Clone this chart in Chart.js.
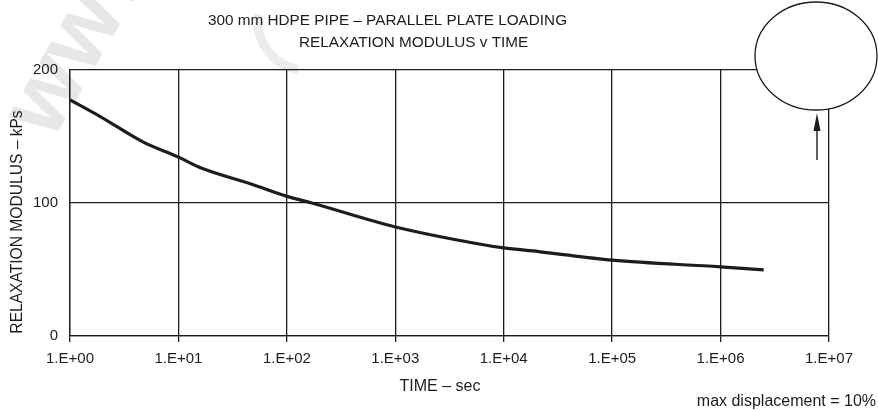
<!DOCTYPE html>
<html>
<head>
<meta charset="utf-8">
<script src="https://cdn.jsdelivr.net/npm/chart.js@4"></script>
<style>
  html, body { margin: 0; padding: 0; background: #fff; }
  #wrap { width: 878px; height: 411px; position: relative; }
</style>
</head>
<body>
<div id="wrap"><canvas id="relaxChart" width="878" height="411"></canvas></div>
<script>
// time in seconds (log axis) and relaxation modulus in kPs
const times = [1, 1.9, 4.7, 10, 16, 46, 100, 170, 1000, 6300, 10000, 21000, 100000, 1000000, 2500000];
const modulus = [177.5, 165, 146, 134.5, 126.5, 114.5, 105, 100, 82, 68.8, 66.2, 63.5, 57, 52, 49.7];
const xTicks = [1, 10, 100, 1000, 10000, 100000, 1000000, 10000000];
const xTickLabels = ['1.E+00', '1.E+01', '1.E+02', '1.E+03', '1.E+04', '1.E+05', '1.E+06', '1.E+07'];
const yTicks = [0, 100, 200];

const titleLines = ['300 mm HDPE PIPE \u2013 PARALLEL PLATE LOADING', 'RELAXATION MODULUS v TIME'];
const xTitle = 'TIME \u2013 sec';
const yTitle = 'RELAXATION MODULUS \u2013 kPs';
const note = 'max displacement = 10%';

const FONT = '"Liberation Sans", Arial, Helvetica, sans-serif';
const INK = '#1c1c1c';

// faint watermark behind everything
const watermark = {
    id: 'watermark',
    beforeDraw(chart) {
        const ctx = chart.ctx;
        ctx.save();
        ctx.fillStyle = '#e7e7e7';
        ctx.font = 'bold 96px ' + FONT;
        ctx.translate(52, 142);
        ctx.rotate(-1.05);
        ctx.fillText('www', 0, 0);
        ctx.restore();
        ctx.save();
        ctx.strokeStyle = '#ececec';
        ctx.lineWidth = 9;
        ctx.beginPath();
        ctx.arc(306, 22, 48, Math.PI * 0.55, Math.PI * 1.05);
        ctx.stroke();
        ctx.restore();
    }
};

// titles, axis titles, note and the pipe sketch in the top right
const annotations = {
    id: 'annotations',
    afterDraw(chart) {
        const ctx = chart.ctx;
        ctx.save();
        ctx.fillStyle = INK;
        ctx.textBaseline = 'middle';
        ctx.textAlign = 'left';
        ctx.font = '15.3px ' + FONT;
        ctx.fillText(titleLines[0], 208, 21);
        ctx.fillText(titleLines[1], 299, 43);
        ctx.font = '16px ' + FONT;
        ctx.textAlign = 'center';
        ctx.fillText(xTitle, 440, 387);
        ctx.textAlign = 'right';
        ctx.fillText(note, 876, 402);

        ctx.save();
        ctx.font = '15.6px ' + FONT;
        ctx.translate(18, 222);
        ctx.rotate(-Math.PI / 2);
        ctx.textAlign = 'center';
        ctx.fillText(yTitle, 0, 0);
        ctx.restore();

        // pipe cross-section
        ctx.strokeStyle = INK;
        ctx.lineWidth = 1.3;
        ctx.fillStyle = '#fff';
        ctx.beginPath();
        ctx.ellipse(816, 56, 61, 54, 0, 0, Math.PI * 2);
        ctx.fill();
        ctx.stroke();

        // load arrow
        ctx.lineWidth = 1.4;
        ctx.beginPath();
        ctx.moveTo(817, 160);
        ctx.lineTo(817, 128);
        ctx.stroke();
        ctx.fillStyle = INK;
        ctx.beginPath();
        ctx.moveTo(817, 113);
        ctx.lineTo(813.5, 131);
        ctx.lineTo(820.5, 131);
        ctx.closePath();
        ctx.fill();
        ctx.restore();
    }
};

const ctx = document.getElementById('relaxChart').getContext('2d');
new Chart(ctx, {
    type: 'line',
    data: {
        datasets: [{
            data: times.map((t, i) => ({ x: t, y: modulus[i] })),
            borderColor: INK,
            borderWidth: 3.2,
            pointRadius: 0,
            fill: false,
            cubicInterpolationMode: 'monotone'
        }]
    },
    options: {
        responsive: false,
        animation: false,
        layout: { padding: { top: 70, right: 49, left: 0, bottom: 0 } },
        plugins: {
            legend: { display: false },
            tooltip: { enabled: false }
        },
        scales: {
            x: {
                type: 'logarithmic',
                min: 1,
                max: 10000000,
                afterBuildTicks: axis => { axis.ticks = xTicks.map(v => ({ value: v })); },
                afterFit: axis => { axis.height = 75; },
                ticks: {
                    autoSkip: false,
                    maxRotation: 0,
                    padding: 8,
                    color: INK,
                    font: { family: FONT, size: 15 },
                    callback: (v, i) => xTickLabels[i]
                },
                grid: { color: INK, lineWidth: 1.3, tickLength: 6 },
                border: { color: INK, width: 1.3 }
            },
            y: {
                min: 0,
                max: 200,
                afterBuildTicks: axis => { axis.ticks = yTicks.map(v => ({ value: v })); },
                afterFit: axis => { axis.width = 70; },
                ticks: {
                    padding: 12,
                    color: INK,
                    font: { family: FONT, size: 15 }
                },
                grid: { color: INK, lineWidth: 1.3, drawTicks: false },
                border: { color: INK, width: 1.3 }
            }
        }
    },
    plugins: [watermark, annotations]
});
</script>
</body>
</html>
